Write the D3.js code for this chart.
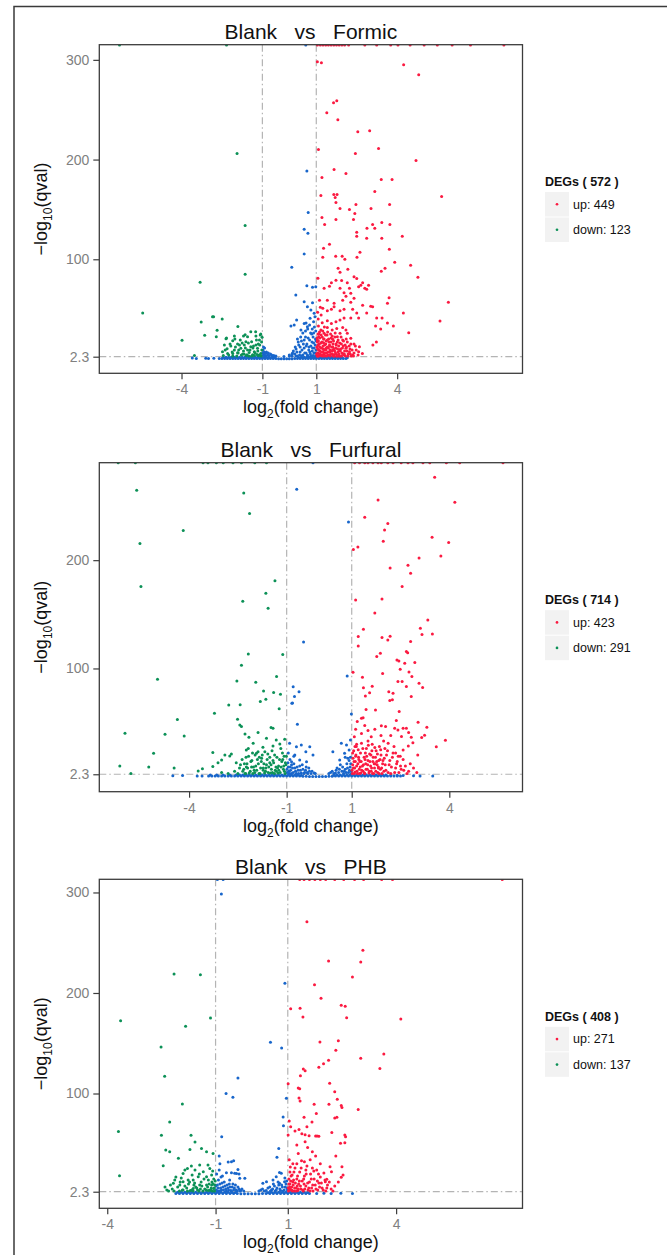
<!DOCTYPE html>
<html>
<head>
<meta charset="utf-8">
<script src="https://cdn.jsdelivr.net/npm/d3@7"></script>
<style>
  body { margin: 0; background: #fff; }
  svg { display: block; font-family: "Liberation Sans", Arial, Helvetica, sans-serif; }
</style>
</head>
<body>
<div id="chart"></div>
<script>
// ---- chart values ----
const panelTitles = ['Blank   vs   Formic', 'Blank   vs   Furfural', 'Blank   vs   PHB'];
const degTotals = [572, 714, 408];
const upCounts = [449, 423, 271];
const downCounts = [123, 291, 137];
const xTicks = [-4, -1, 1, 4];
const yTicksFormic = [2.3, 100, 200, 300];
const yTicksFurfural = [2.3, 100, 200];
const yTicksPHB = [2.3, 100, 200, 300];
const qThreshold = 2.3;
const fcThreshold = [-1, 1];

// points: [log2 fold change, -log10 qval]
const formicUp = [
  [1.04,298],[1.19,297],[4.24,295],[4.8,285],[1.64,257],[1.76,259],[1.39,247],[1.8,240],[2.54,228],[2.98,229],
  [1.08,210],[2.45,206],[3.31,211],[4.7,199],[1.21,182],[1.66,190],[2.1,186],[3.41,180],[3.81,180],[1.17,164],
  [1.65,165],[1.77,165],[1.7,162],[3.17,168],[5.65,163],[1.73,157],[1.88,151],[2.23,150],[2.47,155],[2.43,146],
  [3.03,151],[3.72,155],[1.21,142],[1.31,135],[1.73,140],[2.38,140],[3.09,135],[3.17,131],[3.43,137],[3.73,135],
  [2.5,127],[2.5,123],[2.88,131],[2.87,121],[3.43,121],[4.19,123],[1.49,115],[1.27,111],[3.71,110],[2.62,107],
  [1.72,103],[1.96,103],[2.06,100],[2.51,102],[1.24,102],[3.91,97],[4.5,94],[3.55,91],[3.41,88],[4.77,82],
  [1.06,81],[1.81,91],[2.17,90],[1.88,87],
  [1.29,71],[1.49,73],[1.56,76.5],[1.73,79],[1.94,78.6],[2.15,76.5],[1.88,71],[2.03,66.5],[2.23,71],[2.28,66],
  [2.4,82.6],[2.5,80.6],[2.57,72.5],[2.65,74],[2.72,76.5],[2.8,71],[2.87,70],[2.94,74],[2.4,61],[2.1,63],
  [1.98,59],[1.66,56],[1.41,59],[1.12,59],[1.24,51],[1.41,48.5],[1.56,50],[1.66,52.5],[1.88,48.5],[2.03,50],
  [2.28,57],[2.35,50],[2.5,46],[2.72,54],[3.09,52.5],[3.02,53],[2.87,46],[2.57,41],[2.28,41],[2.03,41],
  [1.88,39],[1.73,37.4],[1.56,35.7],[1.41,38.4],[1.22,36.4],[1.07,40],[3.24,41],[3.44,41],[3.64,36],[3.39,30],
  [3.2,33],[3.86,33],[4.23,46],[4.43,26.4],[5.59,38],[5.9,57],[3.7,61.5],[3.64,56],[3.23,17],[3.1,14],
  [2.71,5.6],[2.57,7.3],[2.4,15],[2.28,20.7],[2.15,25.7],[2.1,29],[1.98,31.7],[1.88,25.7],[1.76,30.7],[1.59,29],
  [1.41,31.7],[1.29,25.7],[1.17,29],[1.09,22.4],[1.04,17],[1.12,12.3],[1.24,7.3],[1.36,10.7],[1.49,13],[1.61,9],
  [1.73,15],[1.86,9],[1.98,5.6],[2.1,10.7],[2.23,7.3],[2.35,4],[2.48,9],[2.6,12.3],[2.15,17],[1.98,19],
  [1.78,22.4],[1.61,19.7],[1.41,19],[1.27,16.3],[1.09,5.6],[1.17,4],[1.29,20],[1.66,4],[1.49,4],[1.86,2.8],
  [2.03,4],[2.28,15],
  [1.03,3],[1.05,6],[1.05,10],[1.06,14],[1.08,18],[1.03,21],[1.1,25],[1.13,8],[1.15,3.5],[1.17,16],
  [1.2,11],[1.22,3],[1.25,13],[1.28,5],[1.3,9],[1.33,3.2],[1.35,15],[1.38,6],[1.4,24],[1.43,4],
  [1.45,11],[1.47,17],[1.5,7],[1.52,3],[1.55,21],[1.57,12],[1.6,5],[1.62,15],[1.65,2.8],[1.68,8],
  [1.7,26],[1.72,11],[1.75,4.5],[1.78,17],[1.8,7],[1.83,13],[1.85,3.5],[1.9,10],[1.93,15],[1.95,6],
  [2.0,13],[2.05,8],[2.08,3],[2.12,12],[2.18,5],[2.25,10],[2.3,3],[2.4,6],[1.12,27],[1.22,22],
  [1.08,33],[1.18,44],[1.3,32],[1.05,47],[1.15,52],
  [1.01,5],[1.02,12],[1.04,19],[1.06,25],[1.07,2.8],[1.09,9],[1.11,15],[1.13,21],[1.14,5],[1.16,11],
  [1.18,24],[1.19,7],[1.21,17],[1.23,4],[1.24,28],[1.26,10],[1.27,20],[1.29,3],[1.31,14],[1.32,6],
  [1.34,24],[1.36,9],[1.37,18],[1.39,3],[1.41,12],[1.42,27],[1.44,7],[1.46,20],[1.48,4],[1.49,14],
  [1.51,9],[1.53,25],[1.54,17],[1.56,5],[1.58,8],[1.59,23],[1.61,12],[1.63,3.5],[1.64,18],[1.66,10],
  [1.69,22],[1.71,6],[1.74,14],[1.76,2.8],[1.79,10],[1.81,19],[1.84,5],[1.87,16],[1.89,8],[1.92,22],
  [1.94,3],[1.97,11],[2.01,18],[2.04,5],[2.07,14],[2.11,20],[2.14,8],[2.17,3],[2.22,13],[2.26,5],
  [2.33,9],[2.38,3],[2.45,13],[2.55,4],
  [1.04,315],[1.15,315],[1.25,315],[1.35,315],[1.45,315],[1.55,315],[1.65,315],[1.75,315],[1.85,315],[1.95,315],
  [2.05,315],[2.2,315],[2.8,315],[3.24,315],[3.76,315],[4.03,315],[4.48,315],[5.0,315],[5.49,315],[6.04,315],
  [6.72,315],[7.96,315]
];
const formicDown = [
  [-1.94,206],[-1.64,134],[-1.64,85],[-3.31,77],[-5.44,46],[-3.98,18.7],[-3.52,3.6],[-3.27,37],[-3.14,23.7],[-2.85,42.4],
  [-2.81,42.4],[-2.68,28.7],[-2.71,22.4],[-2.49,40],[-2.35,20.4],[-2.33,21],[-2.04,23],[-2.02,20],[-1.91,32.7],[-1.64,24.4],
  [-1.7,23],[-1.55,22.4],[-1.43,27.4],[-1.25,27.4],[-1.24,23],[-1.08,24],[-1.11,19],[-1.01,21.7],[-1.06,25],
  [-2.41,14],[-2.31,10.3],[-2.17,13],[-2.04,9],[-1.92,15],[-1.8,10.7],[-1.67,14],[-1.55,9],[-1.43,12.3],[-1.3,7.3],
  [-1.18,10.7],[-1.06,5.6],[-2.48,7.3],[-2.29,5.6],[-2.1,5.6],[-1.92,6.3],[-1.73,5],[-1.57,4.3],[-1.49,6.6],[-1.36,4.3],
  [-1.2,4.6],[-1.12,4],[-1.02,9],[-1.24,14],[-1.4,17.3],[-1.61,17.3],[-1.82,19],[-2.1,18.3],[-1.35,11],[-1.15,15],
  [-2.45,3.5],[-2.38,9],[-2.25,4],[-2.2,15],[-2.12,7],[-2.0,12],[-1.95,3],[-1.88,9],[-1.85,14],[-1.78,4],
  [-1.75,16],[-1.7,8],[-1.63,11],[-1.6,3.5],[-1.52,16],[-1.46,9],[-1.4,3],[-1.33,13],[-1.27,6],[-1.22,19],
  [-1.17,8],[-1.1,14],[-1.05,3],[-1.03,17],[-1.15,3.2],[-1.3,3.5],[-1.5,3],[-1.68,5],[-1.9,6],[-2.1,3],
  [-6.3,315],[-2.33,315]
];
const formicNs = [
  [0.65,188.6],[0.7,146.8],[0.55,130],[0.69,126],[0.55,105.3],[0.09,92],[0.65,73.5],[0.86,71.9],[0.98,72.5],[0.24,64.2],
  [0.55,57.5],[0.67,52.5],[0.86,56.5],[0.8,49.1],[0.92,45.8],[0.06,33],[0.18,34],[0.27,39],[0.43,29],[0.55,35.7],
  [0.67,32.4],[0.77,40.8],[0.9,37.4],[0.95,42.4],
  [0.2,5],[0.25,10],[0.3,3],[0.35,14],[0.4,7],[0.45,18],[0.5,4],[0.55,11],[0.6,22],[0.62,6],
  [0.65,15],[0.7,3],[0.72,9],[0.75,19],[0.78,5],[0.8,13],[0.83,25],[0.85,8],[0.88,3.5],[0.9,16],
  [0.92,11],[0.95,6],[0.97,20],[0.98,28],[0.1,3],[0.15,8],[0.0,4],[0.3,20],[0.5,26],[0.68,30],[0.4,12],[0.85,30],
  [0.12,6],[0.22,12],[0.28,7],[0.33,17],[0.38,4],[0.42,22],[0.47,9],[0.52,15],[0.57,6],[0.6,28],
  [0.63,13],[0.67,4],[0.7,21],[0.73,12],[0.76,7],[0.79,26],[0.81,3],[0.84,17],[0.86,11],[0.88,22],
  [0.91,6],[0.93,32],[0.96,14],[0.99,9],[0.99,18],[0.97,3],[0.9,26],[0.75,34],[0.62,36],[0.45,3],
  [0.25,3],[0.55,19],
  [-0.98,9],[-0.95,5],[-0.9,3],[-0.85,7],[-0.8,4],[-0.75,3],[-0.7,5],[-0.62,3],[-0.55,2.8],[-0.92,11],[-0.97,3.5],[-0.88,5.5],
  [-0.99,6],[-0.93,7],[-0.86,3],[-0.78,6],[-0.66,4],[-0.58,3.5],[-0.96,12],[-0.5,3],
  [-0.2,2.5],[0.0,3],[0.1,5],
  [-3.6,0.9],[-3.45,0.5],[-3.1,0.8],[-3.0,0.5],[-2.8,0.8],[-2.6,0.6],
  [-2.5,0.6],[-2.4,0.6],[-2.3,0.6],[-2.2,0.6],[-2.1,0.6],[-2.0,0.6],[-1.9,0.6],[-1.8,0.6],[-1.7,0.6],[-1.6,0.6],
  [-1.5,0.6],[-1.4,0.6],[-1.3,0.6],[-1.2,0.6],[-1.1,0.6],[-1.0,0.6],[-0.9,0.6],[-0.8,0.6],[-0.7,0.6],[-0.6,0.6],
  [-0.5,0.4],[-0.4,0.3],[-0.3,0.2],[-0.2,0.2],[-0.1,0.2],[0.0,0.2],[0.1,0.3],[0.2,0.4],[0.3,0.6],[0.4,0.6],
  [0.5,0.6],[0.6,0.6],[0.7,0.6],[0.8,0.6],[0.9,0.6],[1.0,0.6],[1.1,0.6],[1.2,0.6],[1.3,0.6],[1.4,0.6],
  [1.5,0.6],[1.6,0.6],[1.7,0.6],[1.8,0.6],[1.9,0.6],[2.0,0.6],[2.1,0.6],
  [-2.45,1.7],[-2.35,1.7],[-2.25,1.7],[-2.15,1.7],[-2.05,1.7],[-1.95,1.7],[-1.85,1.7],[-1.75,1.7],[-1.65,1.7],[-1.55,1.7],
  [-1.45,1.7],[-1.35,1.7],[-1.25,1.7],[-1.15,1.7],[-1.05,1.7],[-0.95,1.7],[-0.85,1.7],[-0.75,1.7],[-0.65,1.7],[-0.55,1.5],
  [0.35,1.5],[0.45,1.7],[0.55,1.7],[0.65,1.7],[0.75,1.7],[0.85,1.7],[0.95,1.7],[1.05,1.7],[1.15,1.7],[1.25,1.7],
  [1.35,1.7],[1.45,1.7],[1.55,1.7],[1.65,1.7],[1.75,1.7],[1.85,1.7],[1.95,1.7],[2.15,1.2],
  [0.61,315]
];

const furfuralUp = [
  [3.55,276.5],[4.17,253.4],[1.81,255.6],[1.4,239.6],[2.11,233.8],[2.01,227.9],[1.97,217.4],[3.47,221.1],[3.98,216.2],[1.05,209.8],
  [1.19,212.2],[3.07,202],[3.74,203.9],[2.18,192.8],[2.73,195.3],[2.81,187.9],[2.55,175.6],[1.12,163.3],[1.93,164.2],[1.71,151.3],
  [3.34,144.8],[1.36,136.2],[3.11,137.1],[3.48,131.9],[3.16,131.3],[1.2,129.4],[1.2,120.8],[1.93,128.5],[2.11,126.3],[2.18,129.7],
  [2.81,124.8],[1.77,111],[1.88,114],[2.68,115.6],[2.72,114.6],[2.39,107.9],[2.45,107],[2.63,104.8],[2.94,105.4],[2.49,99.3],
  [2.76,96.8],[2.85,92.5],[2.42,87.9],[2.55,87.9],[2.68,83.3],[3.07,86.3],[3.18,82.4],[1.95,95.3],[1.04,96.5],[1.33,91.9],
  [1.36,82.3],[1.63,83.6],[1.42,74.6],[1.55,77.6],[2.14,78.6],[2.17,70.3],[2.25,71],[2.27,77],[2.83,74],[1.44,62],
  [1.73,61.7],[2.46,60.2],[1.3,54],[1.35,54.6],[1.17,51],[1.12,43.9],[1.4,47.4],[1.5,42.6],[1.71,43.9],[1.91,47.1],
  [2.04,46.3],[2.37,51.9],[2.32,44.8],[2.58,44.8],[2.68,44.8],[3.04,50.3],[3.31,45.7],[3.24,38.3],[3.88,33.7],[3.6,27.8],
  [2.42,43.2],[2.53,37.1],[2.75,40.8],[2.83,36.5],[2.88,31.5],[3.15,36.2],[2.74,28.5],[3.03,20.2],[2.49,18.9],[2.58,24.8],
  [1.02,3],[1.05,8],[1.07,14],[1.1,4.5],[1.12,19],[1.15,10],[1.18,3],[1.2,25],[1.23,7],[1.25,14],
  [1.28,3.5],[1.3,31],[1.33,10],[1.35,5],[1.38,18],[1.4,3],[1.43,12],[1.45,26],[1.48,7],[1.5,15],
  [1.53,3.5],[1.55,21],[1.58,10],[1.6,5],[1.63,30],[1.65,14],[1.68,3],[1.7,8],[1.73,18],[1.75,24],
  [1.78,11],[1.8,4],[1.83,15],[1.85,28],[1.88,7],[1.9,20],[1.93,3],[1.95,12],[1.98,33],[2.0,17],
  [2.05,6],[2.1,24],[2.15,11],[2.2,3],[2.25,18],[2.3,28],[2.35,8],[2.4,14],[2.45,4],[2.5,10],
  [2.6,6],[2.7,3],[2.8,12],[1.08,37],[1.3,40],[1.15,30],[1.6,37],[1.9,38],[2.2,38],[1.03,22],
  [1.22,16],[1.42,22],[1.62,24],[1.82,8],[2.02,26],[1.1,28],[1.5,33],[2.12,31],[2.35,22],[1.72,12],
  [1.01,6],[1.03,11],[1.04,17],[1.06,24],[1.08,3],[1.09,8],[1.11,14],[1.13,20],[1.14,28],[1.16,5],
  [1.19,12],[1.21,18],[1.24,3],[1.26,9],[1.27,22],[1.29,14],[1.31,6],[1.34,26],[1.36,11],[1.39,3.5],
  [1.41,16],[1.44,7],[1.46,19],[1.49,11],[1.51,29],[1.54,5],[1.56,14],[1.59,20],[1.61,8],[1.64,3],
  [1.66,18],[1.69,12],[1.71,27],[1.74,5],[1.77,14],[1.79,21],[1.82,9],[1.84,3],[1.87,16],[1.89,25],
  [1.92,8],[1.96,15],[1.99,5],[2.03,11],[2.07,20],[2.12,4],[2.17,15],[2.22,9],[2.27,22],[2.32,4],
  [2.38,12],[2.43,19],[2.52,7],[2.58,16],[2.65,10],[2.75,5],[2.9,8],[3.0,4],
  [1.09,290],[1.24,290],[1.4,290],[1.5,290],[1.65,290],[1.81,290],[1.91,290],[2.11,290],[2.27,290],[2.52,290],
  [2.73,290],[2.88,290],[3.19,290],[3.4,290],[3.91,290],[4.32,290],[5.65,290]
];
const furfuralDown = [
  [-5.61,264.5],[-5.51,215.3],[-5.48,175.6],[-4.18,227.3],[-2.32,262.1],[-2.14,243],[-1.36,181.1],[-1.64,169.4],[-1.57,155.6],[-2.35,162],
  [-2.18,113.4],[-2.39,103],[-1.12,113],[-4.97,90],[-2.53,88.5],[-1.95,87.3],[-1.31,92.5],[-1.71,79.2],[-1.4,77.7],[-1.19,76.2],
  [-1.81,69.4],[-1.64,71.5],[-2.78,66.3],[-2.43,66.6],[-1.23,62.9],[-3.22,58.6],[-4.36,52.8],[-2.51,53.1],[-2.44,47.9],[-2.39,46.3],
  [-1.48,45.4],[-1.42,44.8],[-5.97,40.2],[-4.74,39.2],[-4.15,37.7],[-2.28,39.5],[-2.16,36.5],[-1.88,40.8],[-1.62,35.5],[-1.32,34],
  [-1.06,34.6],[-1.21,30.3],[-1.42,28.5],[-1.73,27.2],[-2.03,30.9],[-2.24,24.8],[-1.93,21.8],[-5.09,21.7],[-3.27,22.3],[-2.9,20.2],
  [-2.75,19.2],[-2.7,21],[-3.0,15.5],[-3.11,13],[-6.13,10],[-5.79,2.9],[-5.24,9.1],[-4.46,8.1],[-3.72,5.4],[-3.59,7.5],[-3.27,9.4],
  [-2.35,5],[-2.3,12],[-2.25,18],[-2.2,8],[-2.15,3.5],[-2.1,14],[-2.05,22],[-2.0,6],[-1.95,10],[-1.9,16],
  [-1.85,3],[-1.8,8],[-1.75,20],[-1.7,12],[-1.65,5],[-1.6,16],[-1.55,9],[-1.5,3.5],[-1.45,24],[-1.4,13],
  [-1.35,6],[-1.3,18],[-1.25,10],[-1.2,4],[-1.15,14],[-1.1,7],[-1.05,3],[-1.02,11],[-1.08,19],[-1.18,26],
  [-1.28,8],[-1.38,3],[-1.48,11],[-1.58,21],[-1.68,3.5],[-1.78,14],[-1.88,23],[-1.98,4],[-2.08,9],[-2.18,26],
  [-2.28,3],[-2.45,8],[-2.6,5],[-2.55,13],[-2.8,3],[-3.0,4],[-1.12,16],[-1.32,5],[-1.52,13],[-1.72,6],
  [-2.5,3],[-2.42,11],[-2.37,16],[-2.32,7],[-2.26,3],[-2.22,12],[-2.17,19],[-2.12,5],[-2.07,15],[-2.02,9],
  [-1.97,20],[-1.92,6],[-1.87,12],[-1.82,3],[-1.77,17],[-1.72,8],[-1.67,23],[-1.62,11],[-1.57,4],[-1.52,18],
  [-1.47,7],[-1.42,15],[-1.37,20],[-1.33,9],[-1.27,3.5],[-1.22,16],[-1.17,9],[-1.13,22],[-1.07,5],[-1.04,13],
  [-1.01,19],[-1.09,10],[-1.24,6],[-1.44,4],[-1.64,8],[-1.84,18],[-2.04,3],[-2.24,9],
  [-6.18,290],[-5.65,290],[-3.57,290],[-3.42,290],[-3.16,290],[-2.95,290],[-2.65,290],[-2.39,290],[-1.98,290],[-1.62,290]
];
const furfuralNs = [
  [-0.69,265.5],[0.9,235.3],[-0.48,124.5],[0.86,93.1],[-0.8,83.2],[-0.76,74],[-0.62,78.6],[-0.82,68.2],[-0.67,48.5],[0.99,58],
  [-0.84,67.9],[-0.91,30.9],[-0.7,27.8],[-0.55,29.4],[-0.41,23.2],[-0.29,27.8],[-0.19,20.1],[-0.75,20.1],[-0.6,15.5],[-0.85,13.9],
  [-0.39,13.9],[0.42,23.2],[0.68,30.9],[0.84,29.4],[0.78,21.7],[0.63,15.5],[0.88,17.1],[0.92,24.7],[0.96,34],
  [-0.98,4],[-0.95,9],[-0.92,3],[-0.88,6],[-0.85,11],[-0.8,4],[-0.75,8],[-0.7,3],[-0.65,6],[-0.6,10],
  [-0.55,3.5],[-0.5,7],[-0.45,4],[-0.4,9],[-0.35,3],[-0.3,5],[-0.25,3],[-0.15,3.5],[0.3,3],[0.4,5],
  [0.5,3.5],[0.55,8],[0.6,4],[0.65,11],[0.7,5],[0.75,3],[0.8,7],[0.85,12],[0.9,4],[0.95,9],
  [0.98,5],[0.92,15],[0.8,18],[-0.9,16],[-0.78,19],[-0.95,22],
  [-0.99,7],[-0.96,13],[-0.93,5],[-0.89,9],[-0.86,3],[-0.82,8],[-0.78,12],[-0.73,5],[-0.68,9],[-0.63,3],
  [-0.58,6],[-0.52,11],[-0.47,3],[-0.42,6],[-0.37,4],[-0.32,8],[-0.22,5],[-0.12,3],[0.35,4],[0.45,3],
  [0.52,6],[0.62,7],[0.72,9],[0.77,5],[0.83,4],[0.87,8],[0.93,6],[0.97,12],[0.99,3],[0.96,18],
  [-4.5,1.0],[-4.2,1.2],[-3.75,0.6],[-3.6,0.8],[3.49,0.8],[2.9,1.0],[3.1,0.6],
  [-3.4,0.6],[-3.3,0.6],[-3.2,0.6],[-3.1,0.6],[-3.0,0.6],[-2.9,0.6],[-2.8,0.6],[-2.7,0.6],[-2.6,0.6],[-2.5,0.6],
  [-2.4,0.6],[-2.3,0.6],[-2.2,0.6],[-2.1,0.6],[-2.0,0.6],[-1.9,0.6],[-1.8,0.6],[-1.7,0.6],[-1.6,0.6],[-1.5,0.6],
  [-1.4,0.6],[-1.3,0.6],[-1.2,0.6],[-1.1,0.6],[-1.0,0.6],[-0.9,0.6],[-0.8,0.6],[-0.7,0.6],[-0.6,0.6],[-0.5,0.5],
  [-0.4,0.4],[-0.3,0.3],[-0.2,0.2],[-0.1,0.2],[0.0,0.2],[0.1,0.2],[0.2,0.3],[0.3,0.4],[0.4,0.5],[0.5,0.6],
  [0.6,0.6],[0.7,0.6],[0.8,0.6],[0.9,0.6],[1.0,0.6],[1.1,0.6],[1.2,0.6],[1.3,0.6],[1.4,0.6],[1.5,0.6],
  [1.6,0.6],[1.7,0.6],[1.8,0.6],[1.9,0.6],[2.0,0.6],[2.1,0.6],[2.2,0.6],[2.3,0.6],[2.4,0.6],[2.5,0.6],
  [-3.35,1.7],[-3.15,1.7],[-2.95,1.7],[-2.75,1.7],[-2.55,1.7],[-2.45,1.7],[-2.35,1.7],[-2.25,1.7],[-2.15,1.7],[-2.05,1.7],
  [-1.95,1.7],[-1.85,1.7],[-1.75,1.7],[-1.65,1.7],[-1.55,1.7],[-1.45,1.7],[-1.35,1.7],[-1.25,1.7],[-1.15,1.7],[-1.05,1.7],
  [-0.95,1.7],[-0.85,1.7],[-0.75,1.7],[-0.65,1.7],[-0.55,1.5],[0.45,1.4],[0.55,1.7],[0.65,1.7],[0.75,1.7],[0.85,1.7],
  [0.95,1.7],[1.05,1.7],[1.15,1.7],[1.25,1.7],[1.35,1.7],[1.45,1.7],[1.55,1.7],[1.65,1.7],[1.75,1.7],[1.85,1.7],
  [1.95,1.7],[2.05,1.7],[2.2,1.5],[2.4,1.5],[2.58,1.2],
  [-0.19,290]
];

const phbUp = [
  [1.53,270.9],[3.08,242.4],[2.13,231.8],[3.02,230.8],[2.79,215.9],[1.74,208.3],[1.92,194.7],[1.08,184.4],[1.34,184.7],[1.42,176.1],
  [2.48,187.7],[2.59,186.7],[2.63,175.4],[4.13,174.1],[1.89,151.2],[2.4,152.5],[2.33,143],[3.66,139.3],[3.02,135],[2.13,133],
  [1.99,129.7],[1.86,126],[3.55,125],[1.43,124.4],[1.48,122.7],[1.35,117.7],[1.01,109.8],[2.16,110.1],[2.3,101.8],[2.37,94.2],
  [2.14,89.2],[2.5,86.2],[2.48,88],[1.29,105.5],[1.33,104.8],[1.31,95.5],[1.34,92.5],[1.73,89.2],[2.95,84.2],[1.04,72.6],
  [1.08,67],[1.45,76.3],[1.53,67],[1.67,71.6],[1.79,80.2],[1.86,57.4],[2.3,75.6],[2.36,76.3],[2.22,61.3],[2.58,58.7],
  [2.6,57],[2.46,50.4],[2.58,51],[1.2,62.7],[1.31,64.3],[1.39,60],[1.48,59],[1.59,58],[1.77,57.7],[1.81,57.7],
  [1.01,58.7],[1.25,48.7],[1.48,52],[1.55,46.4],[1.68,42.1],[1.77,37.8],[1.29,40.4],[1.46,32.2],[2.33,37.8],[2.17,27.2],
  [2.5,27.2],[2.53,18.9],[2.48,16.6],[2.21,22.2],[2.08,14.6],[2.04,12.3],
  [1.02,3],[1.05,7],[1.08,13],[1.1,4],[1.12,19],[1.15,9],[1.18,3],[1.2,26],[1.23,6],[1.25,15],
  [1.28,3.5],[1.3,10],[1.33,22],[1.36,5],[1.4,13],[1.43,3],[1.46,18],[1.5,8],[1.53,28],[1.56,4],
  [1.6,12],[1.63,20],[1.66,6],[1.7,3],[1.73,15],[1.76,9],[1.8,24],[1.83,4],[1.86,11],[1.9,17],
  [1.95,6],[2.0,21],[2.05,3],[2.1,9],[2.2,5],[1.04,34],[1.14,30],[1.38,33],[1.62,34],[1.9,30],
  [1.06,22],[1.03,10],[1.07,5],[1.12,3.5],[1.16,14],[1.26,8],[1.45,10],[1.68,26],[2.3,8],[2.4,12],
  [1.01,6],[1.03,15],[1.04,4],[1.06,10],[1.09,18],[1.11,7],[1.13,3],[1.14,12],[1.17,22],[1.19,6],
  [1.21,11],[1.24,3],[1.27,18],[1.29,5],[1.32,13],[1.35,8],[1.37,26],[1.41,4],[1.44,15],[1.47,5],
  [1.51,20],[1.55,11],[1.58,6],[1.62,3],[1.65,15],[1.69,9],[1.72,23],[1.78,5],[1.82,13],[1.88,7],
  [1.93,11],[1.98,4],[2.03,14],[2.08,6],[2.15,12],[2.25,3],[1.07,27],[1.25,30],[1.5,24],[1.85,20],
  [1.33,313],[1.45,313],[1.6,313],[1.75,313],[1.9,313],[2.05,313],[2.3,313],[2.55,313],[2.85,313],[3.1,313],
  [3.6,313],[3.9,313],[6.94,313]
];
const phbDown = [
  [-3.63,172.4],[-3.69,62.3],[-3.66,18.2],[-2.15,218.9],[-1.42,218.2],[-1.14,175.1],[-1.83,166.8],[-2.51,146.2],[-2.41,117.1],[-1.92,89.5],
  [-2.27,71.6],[-2.5,58.4],[-1.68,58.4],[-2.45,28.2],[-2.38,43.8],[-2.27,42.1],[-2.03,35.5],[-1.71,44.4],[-1.57,51.7],[-1.39,45.4],
  [-1.25,42.1],[-1.07,40.4],[-2.13,13.9],[-2.17,10.6],[-1.9,12.2],[-1.85,23.9],[-1.78,25.5],[-1.67,27.8],[-1.57,23.9],[-1.44,28.8],
  [-1.34,22.2],[-1.21,28.8],[-1.16,25.5],[-1.11,18.9],[-1.25,17.2],[-1.48,17.2],[-1.62,13.9],[-1.76,13.9],[-1.9,20.5],[-1.99,8.9],
  [-1.44,8.9],[-1.25,8.9],[-1.11,8.9],[-1.05,5.6],[-1.62,5.6],
  [-1.9,4],[-1.8,6],[-1.7,3.5],[-1.6,9],[-1.5,4],[-1.4,12],[-1.3,5],[-1.2,3.5],[-1.1,12],[-1.05,15],
  [-1.15,4],[-1.35,3],[-1.55,7],[-1.75,10],[-2.0,3],[-2.2,5],[-2.1,17],[-1.08,23],[-1.02,9],[-1.03,3],
  [-1.12,6],[-1.2,14],[-2.3,3],[-2.4,7],[-1.95,16],[-1.65,19],[-1.45,20],
  [-2.35,4],[-2.25,9],[-2.15,3],[-2.05,7],[-1.98,12],[-1.92,4],[-1.85,8],[-1.78,3],[-1.72,12],[-1.66,4],
  [-1.58,11],[-1.52,6],[-1.46,3],[-1.38,8],[-1.32,15],[-1.26,4],[-1.18,10],[-1.13,4],[-1.07,10],[-1.04,6],
  [-1.01,13],[-1.09,3],[-1.22,7],[-1.42,5],[-1.62,3]
];
const phbNs = [
  [-0.84,298.5],[0.92,209.6],[0.52,150.9],[0.83,145.3],[-0.38,115.4],[-0.71,100.1],[-0.52,96.2],[0.96,95.2],[0.87,76.6],[0.88,68],
  [-0.83,57],[0.75,45.4],[0.7,36.5],[0.77,21.5],[-0.9,37.8],[-0.65,31.8],[-0.56,32.2],[-0.5,33.1],[-0.7,21.2],[-0.56,21.2],
  [-0.42,20.5],[-0.38,24.5],[-0.81,17.9],[-0.61,13.9],[-0.33,15.6],[-0.47,20.6],[-0.35,19.9],[-0.19,15.6],[0.31,10.6],[0.41,12.2],
  [0.59,13.9],[0.68,17.2],[0.77,10.6],[0.82,20.6],[0.91,12.2],
  [-0.98,4],[-0.95,9],[-0.92,14],[-0.9,3],[-0.86,6],[-0.82,11],[-0.78,4],[-0.74,8],[-0.7,3],[-0.66,6],
  [-0.62,10],[-0.58,3.5],[-0.54,7],[-0.5,4],[-0.45,9],[-0.4,3],[-0.35,5],[-0.3,3.5],[-0.22,3],[-0.97,20],
  [-0.85,17],[0.2,3],[0.3,5],[0.4,3.5],[0.5,7],[0.55,4],[0.6,10],[0.65,3],[0.7,6],[0.75,9],
  [0.8,3.5],[0.85,7],[0.9,4],[0.95,10],[0.98,6],[0.92,16],
  [-0.99,8],[-0.96,3],[-0.93,6],[-0.88,10],[-0.84,4],[-0.8,7],[-0.76,12],[-0.72,5],[-0.68,9],[-0.64,4],
  [-0.6,7],[-0.56,3],[-0.52,10],[-0.48,6],[-0.43,4],[-0.38,7],[-0.33,3],[-0.27,5],[-0.9,24],[-0.88,30],
  [0.25,4],[0.35,3],[0.45,6],[0.52,3],[0.58,5],[0.63,8],[0.68,4],[0.73,12],[0.78,5],[0.83,9],
  [0.87,3],[0.93,7],[0.97,13],[0.99,4],
  [1.8,0.6],[2.0,0.8],[2.2,0.5],[2.47,0.8],[2.79,0.6],
  [-2.1,0.6],[-2.0,0.6],[-1.9,0.6],[-1.8,0.6],[-1.7,0.6],[-1.6,0.6],[-1.5,0.6],[-1.4,0.6],[-1.3,0.6],[-1.2,0.6],
  [-1.1,0.6],[-1.0,0.6],[-0.9,0.6],[-0.8,0.6],[-0.7,0.6],[-0.6,0.6],[-0.5,0.5],[-0.4,0.4],[-0.3,0.3],[-0.2,0.2],
  [-0.1,0.2],[0.0,0.2],[0.1,0.2],[0.2,0.3],[0.3,0.4],[0.4,0.5],[0.5,0.6],[0.6,0.6],[0.7,0.6],[0.8,0.6],
  [0.9,0.6],[1.0,0.6],[1.1,0.6],[1.2,0.6],[1.3,0.6],[1.4,0.6],[1.5,0.6],[1.6,0.6],
  [-2.05,1.7],[-1.95,1.7],[-1.85,1.7],[-1.75,1.7],[-1.65,1.7],[-1.55,1.7],[-1.45,1.7],[-1.35,1.7],[-1.25,1.7],[-1.15,1.7],
  [-1.05,1.7],[-0.95,1.7],[-0.85,1.7],[-0.75,1.7],[-0.65,1.7],[-0.55,1.6],[-0.45,1.4],[0.45,1.4],[0.55,1.7],[0.65,1.7],
  [0.75,1.7],[0.85,1.7],[0.95,1.7],[1.05,1.7],[1.15,1.7],[1.25,1.7],[1.35,1.7],[1.45,1.7],[1.55,1.5],
  [-0.95,313],[-0.79,313]
];

// ---- layout ----
const W = 667, H = 1255;
const plotLeft = 99.3, plotRight = 522.5;
const colors = { up: '#fb1a41', down: '#0c9157', ns: '#1866cb' };

const panels = [
  { title: panelTitles[0], up: formicUp, down: formicDown, ns: formicNs, yTicks: yTicksFormic,
    xDomain: [-7.05, 8.65], yDomain: [-14.35, 315.2], top: 44.7, bottom: 373.3,
    total: degTotals[0], nUp: upCounts[0], nDown: downCounts[0] },
  { title: panelTitles[1], up: furfuralUp, down: furfuralDown, ns: furfuralNs, yTicks: yTicksFurfural,
    xDomain: [-6.76, 6.25], yDomain: [-13.8, 290], top: 462.7, bottom: 791.7,
    total: degTotals[1], nUp: upCounts[1], nDown: downCounts[1] },
  { title: panelTitles[2], up: phbUp, down: phbDown, ns: phbNs, yTicks: yTicksPHB,
    xDomain: [-4.22, 7.5], yDomain: [-14.2, 313.1], top: 879.3, bottom: 1208.3,
    total: degTotals[2], nUp: upCounts[2], nDown: downCounts[2] }
];

const svg = d3.select('#chart')
  .append('svg')
  .attr('width', W)
  .attr('height', H);

// outer frame (runs off the right and bottom of the picture)
svg.append('rect')
  .attr('x', 14).attr('y', 6.5)
  .attr('width', 700).attr('height', 1300)
  .attr('fill', 'none')
  .attr('stroke', '#3a3a3a')
  .attr('stroke-width', 1.5);

panels.forEach((p, i) => drawPanel(p, i));

function drawPanel(p, i) {
  const x = d3.scaleLinear().domain(p.xDomain).range([plotLeft, plotRight]);
  const y = d3.scaleLinear().domain(p.yDomain).range([p.bottom, p.top]);
  const g = svg.append('g');

  // clip the points to the panel
  const clipId = 'clip' + i;
  svg.append('clipPath').attr('id', clipId)
    .append('rect')
    .attr('x', plotLeft).attr('y', p.top)
    .attr('width', plotRight - plotLeft).attr('height', p.bottom - p.top);

  // threshold lines
  const lines = g.append('g')
    .attr('stroke', '#b4b4b4')
    .attr('stroke-width', 1.2)
    .attr('stroke-dasharray', '7,3,1.5,3');
  lines.selectAll('.vline')
    .data(fcThreshold)
    .join('line')
    .attr('x1', d => x(d)).attr('x2', d => x(d))
    .attr('y1', p.top).attr('y2', p.bottom);
  lines.append('line')
    .attr('x1', plotLeft).attr('x2', plotRight)
    .attr('y1', y(qThreshold)).attr('y2', y(qThreshold));

  // points: non-significant first, then down, then up
  const pts = g.append('g').attr('clip-path', `url(#${clipId})`);
  [['ns', p.ns], ['down', p.down], ['up', p.up]].forEach(([key, data]) => {
    pts.append('g')
      .selectAll('circle')
      .data(data)
      .join('circle')
      .attr('cx', d => x(d[0]))
      .attr('cy', d => y(d[1]))
      .attr('r', 1.5)
      .attr('fill', colors[key]);
  });

  // panel border
  g.append('rect')
    .attr('x', plotLeft).attr('y', p.top)
    .attr('width', plotRight - plotLeft).attr('height', p.bottom - p.top)
    .attr('fill', 'none')
    .attr('stroke', '#3c3c3c')
    .attr('stroke-width', 1.3);

  // axes
  const yAxis = g.append('g')
    .attr('transform', `translate(${plotLeft},0)`)
    .call(d3.axisLeft(y).tickValues(p.yTicks).tickSize(6).tickPadding(4)
      .tickFormat(d => d === qThreshold ? '2.3' : d3.format('d')(d)));
  const xAxis = g.append('g')
    .attr('transform', `translate(0,${p.bottom})`)
    .call(d3.axisBottom(x).tickValues(xTicks).tickSize(6).tickPadding(5)
      .tickFormat(d => d < 0 ? '-' + Math.abs(d) : String(d)));
  [yAxis, xAxis].forEach(ax => {
    ax.select('.domain').remove();
    ax.selectAll('.tick line').attr('stroke', '#3c3c3c').attr('stroke-width', 1.2);
    ax.selectAll('.tick text')
      .attr('fill', '#808080')
      .style('font-size', '14px')
      .style('font-family', '"Liberation Sans", Arial, sans-serif');
  });

  // title
  g.append('text')
    .attr('x', (plotLeft + plotRight) / 2)
    .attr('y', p.top - 5.5)
    .attr('text-anchor', 'middle')
    .style('white-space', 'pre')
    .attr('font-size', 21)
    .attr('fill', '#111')
    .text(p.title);

  // x axis title
  const xt = g.append('text')
    .attr('x', (plotLeft + plotRight) / 2)
    .attr('y', p.bottom + 40)
    .attr('text-anchor', 'middle')
    .attr('font-size', 18)
    .attr('fill', '#111');
  xt.append('tspan').text('log');
  xt.append('tspan').attr('dy', 5).attr('font-size', 12).text('2');
  xt.append('tspan').attr('dy', -5).text('(fold change)');

  // y axis title
  const cy = (p.top + p.bottom) / 2;
  const yt = g.append('text')
    .attr('transform', `translate(47,${cy}) rotate(-90)`)
    .attr('text-anchor', 'middle')
    .attr('font-size', 18)
    .attr('fill', '#111');
  yt.append('tspan').text('\u2212log');
  yt.append('tspan').attr('dy', 5).attr('font-size', 12).text('10');
  yt.append('tspan').attr('dy', -5).text('(qval)');

  // legend
  const lg = g.append('g').attr('transform', `translate(545,${cy})`);
  lg.append('text')
    .attr('x', 0).attr('y', -23)
    .attr('font-size', 12.5)
    .attr('font-weight', 'bold')
    .attr('fill', '#111')
    .text(`DEGs ( ${p.total} )`);
  const keys = [
    { label: `up: ${p.nUp}`, color: colors.up },
    { label: `down: ${p.nDown}`, color: colors.down }
  ];
  const key = lg.selectAll('.key')
    .data(keys)
    .join('g')
    .attr('transform', (d, k) => `translate(0,${-17 + k * 25.5})`);
  key.append('rect')
    .attr('width', 24).attr('height', 24.5)
    .attr('fill', '#f2f2f2');
  key.append('circle')
    .attr('cx', 12).attr('cy', 12.25).attr('r', 1.35)
    .attr('fill', d => d.color);
  key.append('text')
    .attr('x', 28).attr('y', 16.5)
    .attr('font-size', 12.5)
    .attr('fill', '#111')
    .text(d => d.label);
}
</script>
</body>
</html>
